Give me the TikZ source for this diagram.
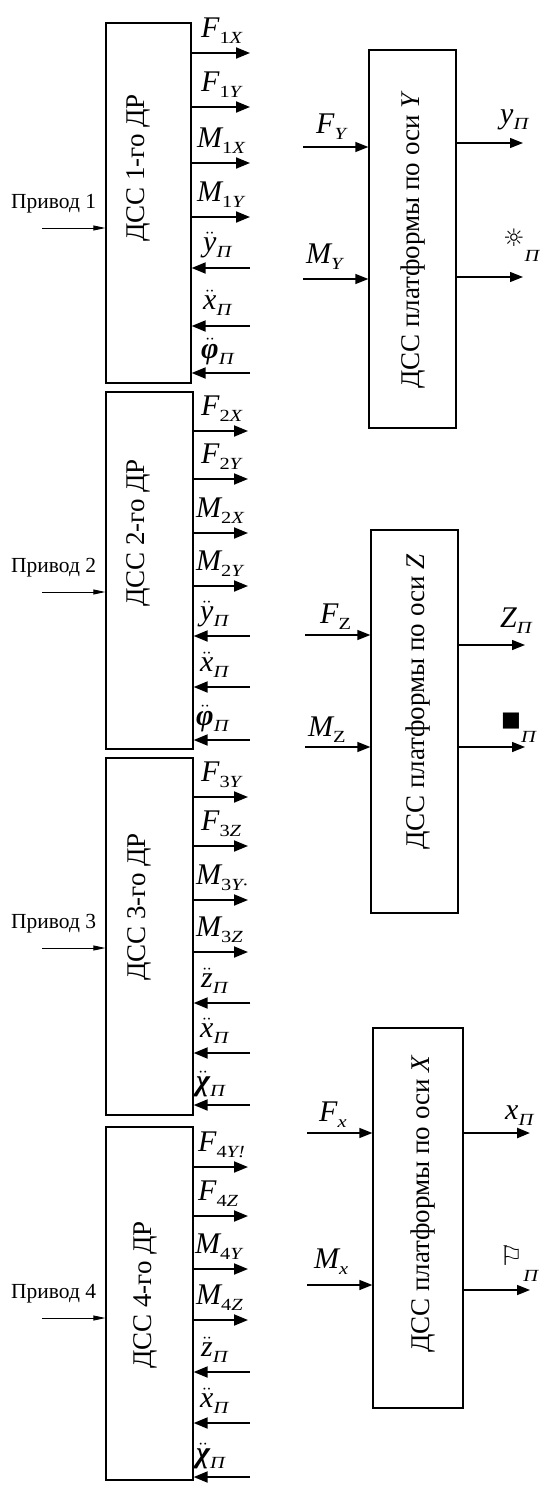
\documentclass[tikz,border=0pt]{standalone}
\usepackage{fontspec}
\setmainfont{Liberation Serif}
\newfontfamily\symf{DejaVu Sans}
\usepackage{graphicx}
\usetikzlibrary{arrows.meta}
\newcommand\sbs[1]{\raisebox{-6pt}{\scalebox{1.2}[1]{\fontsize{17}{17}\selectfont\itshape #1}}}
\newcommand\lb[2]{{\fontsize{30}{30}\selectfont\itshape #1}\sbs{#2}}
\newcommand\dd[1]{\ensuremath{\ddot{\hbox{#1}}}}
\newcommand\up[1]{{\upshape #1}}
\newcommand\symlb[3]{{\symf\fontsize{#1}{#1}\selectfont #2}\raisebox{#3}{\scalebox{1.2}[1]{\fontsize{17}{17}\selectfont\itshape П}}}
\begin{document}
\begin{tikzpicture}[x=1pt,y=-1pt,
  blk/.style={draw, line width=1.3pt, inner sep=0, fill=white},
  sig/.style={line width=1.9pt, -{Triangle[length=14pt,width=11pt]}},
  sigr/.style={line width=1.4pt, -{Triangle[length=13pt,width=10pt]}},
  drv/.style={line width=0.9pt, -{Triangle[length=12pt,width=5pt]}},
  lab/.style={anchor=south west, inner sep=0},
  btxt/.style={rotate=90, font=\fontsize{27}{27}\selectfont, inner sep=0},
  dtxt/.style={anchor=base west, inner sep=0, font=\fontsize{21.5}{24}\selectfont}]
\useasboundingbox (0,0) rectangle (540,1485);
\fill[white] (0,0) rectangle (540,1485);

% ---------- left blocks ----------
\node[blk, minimum width=85pt, minimum height=360pt] (b1) at (148.5,203) {};
\node[blk, minimum width=87pt, minimum height=357pt] (b2) at (149.5,570.5) {};
\node[blk, minimum width=87pt, minimum height=357pt] (b3) at (149.5,936.5) {};
\node[blk, minimum width=87pt, minimum height=353pt] (b4) at (149.5,1303.5) {};

\node[btxt] (t1) at (138,168) {ДСС 1-го ДР};
\node[btxt] (t2) at (138,533) {ДСС 2-го ДР};
\node[btxt] (t3) at (139,907) {ДСС 3-го ДР};
\node[btxt] (t4) at (145,1295) {ДСС 4-го ДР};

% drives
\foreach \k/\y in {1/228,2/592,3/948,4/1318}{
  \coordinate (d\k) at (42,\y);
  \draw[drv] (d\k) -- (b\k.west |- d\k);
  \node[dtxt] (p\k) at (11,\y-20) {Привод \k};
}

% outgoing / incoming signals
\foreach \y [count=\i] in {53,107,163,217}{\coordinate (oa\i) at (250,\y); \draw[sig] (b1.east |- oa\i) -- (oa\i);}
\foreach \y [count=\i] in {268,326,373}{\coordinate (ia\i) at (250,\y); \draw[sig] (ia\i) -- (b1.east |- ia\i);}
\foreach \y [count=\i] in {431,479,533,586}{\coordinate (ob\i) at (248,\y); \draw[sig] (b2.east |- ob\i) -- (ob\i);}
\foreach \y [count=\i] in {636,687,740}{\coordinate (ib\i) at (250,\y); \draw[sig] (ib\i) -- (b2.east |- ib\i);}
\foreach \y [count=\i] in {797,846,900,952}{\coordinate (oc\i) at (248,\y); \draw[sig] (b3.east |- oc\i) -- (oc\i);}
\foreach \y [count=\i] in {1003,1053,1105}{\coordinate (ic\i) at (250,\y); \draw[sig] (ic\i) -- (b3.east |- ic\i);}
\foreach \y [count=\i] in {1167,1216,1269,1320}{\coordinate (od\i) at (248,\y); \draw[sig] (b4.east |- od\i) -- (od\i);}
\foreach \y [count=\i] in {1372,1423,1477}{\coordinate (id\i) at (250,\y); \draw[sig] (id\i) -- (b4.east |- id\i);}

% labels block 1
\node[lab] (la1) at (201,44) {\lb{F}{\up{1}X}};
\node[lab] (la2) at (201,98) {\lb{F}{\up{1}Y}};
\node[lab] (la3) at (197,154) {\lb{M}{\up{1}X}};
\node[lab] (la4) at (197,208) {\lb{M}{\up{1}Y}};
\node[lab] (la5) at (203,258) {\lb{\dd{y}}{П}};
\node[lab] (la6) at (203,316) {\lb{\dd{x}}{П}};
\node[lab] (la7) at (201,365) {\lb{\dd{\bfseries φ}}{П}};
% labels block 2
\node[lab] (lb1) at (201,422) {\lb{F}{\up{2}X}};
\node[lab] (lb2) at (201,470) {\lb{F}{\up{2}Y}};
\node[lab] (lb3) at (196,524) {\lb{M}{\up{2}X}};
\node[lab] (lb4) at (196,577) {\lb{M}{\up{2}Y}};
\node[lab] (lb5) at (200,627) {\lb{\dd{y}}{П}};
\node[lab] (lb6) at (200,678) {\lb{\dd{x}}{П}};
\node[lab] (lb7) at (196,732) {\lb{\dd{\bfseries φ}}{П}};
% labels block 3
\node[lab] (lc1) at (201,788) {\lb{F}{\up{3}Y}};
\node[lab] (lc2) at (201,837) {\lb{F}{\up{3}Z}};
\node[lab] (lc3) at (196,891) {\lb{M}{\up{3}Y·}};
\node[lab] (lc4) at (196,943) {\lb{M}{\up{3}Z}};
\node[lab] (lc5) at (201,994) {\lb{\dd{z}}{П}};
\node[lab] (lc6) at (200,1044) {\lb{\dd{x}}{П}};
\node[lab] (lc7) at (196,1097) {\lb{\dd{\bfseries χ}}{П}};
% labels block 4
\node[lab] (ld1) at (198,1158) {\lb{F}{\up{4}Y!}};
\node[lab] (ld2) at (198,1207) {\lb{F}{\up{4}Z}};
\node[lab] (ld3) at (195,1260) {\lb{M}{\up{4}Y}};
\node[lab] (ld4) at (196,1311) {\lb{M}{\up{4}Z}};
\node[lab] (ld5) at (201,1363) {\lb{\dd{z}}{П}};
\node[lab] (ld6) at (200,1414) {\lb{\dd{x}}{П}};
\node[lab] (ld7) at (196,1469) {\lb{\dd{\bfseries χ}}{П}};

% ---------- right blocks ----------
\node[blk, minimum width=87pt, minimum height=378pt] (ry) at (412.5,239) {};
\node[blk, minimum width=87pt, minimum height=383pt] (rz) at (414.5,721.5) {};
\node[blk, minimum width=90pt, minimum height=380pt] (rx) at (418,1218) {};
\node[btxt] (ty) at (413,240) {ДСС платформы по оси \textit{Y}};
\node[btxt] (tz) at (418,702) {ДСС платформы по оси \textit{Z}};
\node[btxt] (tx) at (423,1204) {ДСС платформы по оси \textit{X}};

% Y block
\coordinate (fy) at (303,147); \draw[sigr] (fy) -- (ry.west |- fy);
\coordinate (my) at (303,279); \draw[sigr] (my) -- (ry.west |- my);
\coordinate (yo) at (523,143); \draw[sigr] (ry.east |- yo) -- (yo);
\coordinate (so) at (523,277); \draw[sigr] (ry.east |- so) -- (so);
\node[lab] (lfy) at (316,140) {\lb{F}{Y}};
\node[lab] (lmy) at (306,270) {\lb{M}{Y}};
\node[lab] (lyo) at (500,130) {\lb{y}{П}};
\node[lab] (lso) at (503,262) {\symlb{24}{☼}{-15pt}};

% Z block
\coordinate (fz) at (305,635); \draw[sigr] (fz) -- (rz.west |- fz);
\coordinate (mz) at (305,747); \draw[sigr] (mz) -- (rz.west |- mz);
\coordinate (zo) at (525,645); \draw[sigr] (rz.east |- zo) -- (zo);
\coordinate (qo) at (525,747); \draw[sigr] (rz.east |- qo) -- (qo);
\node[lab] (lfz) at (320,630) {\lb{F}{\upshape Z}};
\node[lab] (lmz) at (308,743) {\lb{M}{\upshape Z}};
\node[lab] (lzo) at (500,634) {\lb{Z}{П}};
\node[lab] (lqo) at (501,743) {\symlb{21}{■}{-16pt}};

% X block
\coordinate (fx) at (307,1133); \draw[sigr] (fx) -- (rx.west |- fx);
\coordinate (mx) at (307,1285); \draw[sigr] (mx) -- (rx.west |- mx);
\coordinate (xo) at (530,1133); \draw[sigr, line width=2.4pt] (rx.east |- xo) -- (xo);
\coordinate (go) at (530,1290); \draw[sigr] (rx.east |- go) -- (go);
\node[lab] (lfx) at (319,1128) {\lb{F}{x}};
\node[lab] (lmx) at (314,1275) {\lb{M}{x}};
\node[lab] (lxo) at (505,1126) {\lb{x}{П}};
\node[lab] (lgo) at (499,1282) {\symlb{27}{⚐}{-16pt}};
\end{tikzpicture}
\end{document}
